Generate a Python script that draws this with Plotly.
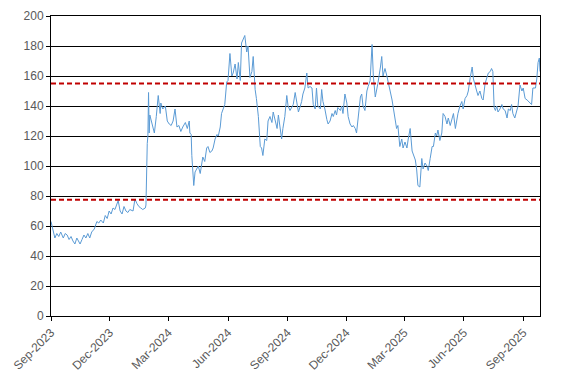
import datetime as dt
import plotly.graph_objects as go

start_date = dt.date(2023, 9, 1)

day_offsets = [
    0, 3, 6, 9, 12, 15, 19, 22, 25, 28, 31, 34, 37, 40, 43, 45, 48, 51, 54, 57,
    60, 63, 67, 70, 71, 74, 77, 81, 84, 87, 90, 93, 96, 99, 104, 107, 110, 113, 116, 119,
    122, 127, 130, 133, 136, 139, 142, 146, 147, 149, 150, 151, 152, 153, 156, 160, 163, 166, 169, 170,
    173, 177, 180, 183, 186, 189, 192, 195, 198, 201, 204, 208, 211, 214, 215, 217, 218, 220, 221, 223,
    226, 228, 231, 233, 235, 238, 241, 243, 246, 249, 251, 254, 257, 259, 262, 264, 266, 269, 272, 274,
    277, 280, 282, 285, 288, 290, 293, 295, 297, 300, 303, 305, 308, 311, 313, 316, 318, 321, 324, 326,
    328, 331, 334, 336, 339, 342, 344, 347, 350, 352, 355, 357, 359, 362, 365, 367, 370, 373, 375, 378,
    381, 383, 386, 388, 390, 393, 396, 398, 401, 404, 406, 409, 411, 413, 417, 419, 421, 424, 427, 429,
    432, 435, 437, 440, 442, 444, 448, 450, 452, 455, 458, 460, 463, 466, 468, 471, 473, 475, 479, 481,
    483, 486, 489, 491, 494, 497, 499, 502, 504, 506, 510, 512, 514, 517, 520, 522, 525, 528, 530, 533,
    535, 537, 540, 543, 545, 548, 551, 553, 556, 559, 561, 564, 566, 568, 571, 574, 576, 579, 582, 584,
    587, 590, 592, 595, 597, 599, 602, 605, 607, 610, 613, 615, 618, 621, 623, 626, 628, 630, 633, 636,
    638, 641, 644, 646, 649, 652, 654, 657, 659, 661, 664, 667, 669, 672, 675, 677, 680, 682, 684, 686,
    688, 690, 692, 695, 698, 700, 703, 706, 708, 711, 713, 715, 718, 721, 723, 726, 729, 731, 734, 737,
    739, 742, 744, 746, 750, 752, 754, 756, 757,
]

values = [
    63, 57, 52, 55, 53, 56, 52, 55, 54, 51, 53, 50, 48, 52, 49, 48, 51, 54, 52, 55,
    52, 56, 58, 61, 63, 62, 64, 62, 67, 65, 70, 68, 72, 71, 77, 70, 68, 73, 70, 69,
    71, 70, 78, 75, 73, 72, 71, 72, 74, 115, 120, 149, 122, 134, 128, 122, 133, 147, 135, 142,
    138, 140, 130, 128, 127, 130, 138, 126, 127, 123, 126, 129, 125, 130, 122, 121, 107, 95, 87, 96,
    99, 100, 95, 101, 106, 103, 112, 113, 109, 110, 112, 118, 121, 120, 126, 135, 138, 141, 156, 157,
    175, 160, 162, 168, 158, 169, 157, 182, 184, 187, 176, 180, 159, 163, 173, 151, 145, 133, 113, 112,
    107, 118, 117, 130, 133, 129, 136, 130, 125, 134, 126, 118, 125, 133, 147, 140, 137, 140, 141, 149,
    142, 136, 140, 143, 148, 152, 162, 152, 153, 152, 141, 138, 152, 140, 138, 151, 143, 138, 131, 128,
    130, 135, 133, 137, 134, 139, 137, 140, 135, 148, 142, 133, 128, 126, 127, 125, 122, 130, 146, 148,
    140, 137, 150, 153, 157, 181, 160, 146, 150, 155, 166, 173, 160, 165, 160, 155, 150, 144, 138, 131,
    125, 127, 113, 118, 112, 116, 112, 118, 125, 110, 107, 104, 98, 87, 86, 105, 98, 102, 100, 97,
    105, 113, 113, 122, 120, 124, 117, 122, 135, 133, 128, 132, 127, 133, 135, 125, 132, 135, 140, 143,
    138, 145, 147, 150, 159, 166, 158, 152, 150, 147, 150, 145, 144, 155, 159, 162, 163, 165, 163, 139,
    137, 140, 136, 138, 141, 138, 137, 132, 138, 137, 141, 135, 132, 137, 140, 154, 150, 152, 145, 144,
    143, 142, 141, 152, 152, 158, 169, 172, 163,
]

upper_level = 155
lower_level = 77.5
x_start = "2023-09-01"
x_end = "2025-09-27"
y_ticks = [0, 20, 40, 60, 80, 100, 120, 140, 160, 180, 200]

dates = [start_date + dt.timedelta(days=d) for d in day_offsets]

fig = go.Figure()
fig.add_trace(go.Scatter(
    x=dates, y=values, mode="lines",
    line=dict(color="#5B9BD5", width=1),
    hoverinfo="skip", showlegend=False,
))
for lvl in (upper_level, lower_level):
    fig.add_trace(go.Scatter(
        x=[x_start, x_end], y=[lvl, lvl], mode="lines",
        line=dict(color="#C00000", width=2, dash="5px,3px"),
        hoverinfo="skip", showlegend=False,
    ))

fig.update_layout(
    width=567, height=383,
    margin=dict(l=51, r=27, t=16, b=67),
    paper_bgcolor="white", plot_bgcolor="white",
    font=dict(family="Liberation Sans", size=12, color="#595959"),
)
fig.update_xaxes(
    type="date", range=[x_start, x_end], automargin=False,
    tick0=x_start, dtick="M3", tickformat="%b-%Y",
    tickangle=-45, ticks="outside", ticklen=4, tickcolor="black",
    showline=True, linecolor="black", linewidth=1, mirror=True,
    showgrid=False, zeroline=False,
)
fig.update_yaxes(
    range=[0, 200], tickvals=y_ticks, automargin=False,
    ticks="outside", ticklen=4, tickcolor="black",
    showline=True, linecolor="black", linewidth=1, mirror=True,
    showgrid=True, gridcolor="black", gridwidth=1, zeroline=False,
)

fig.write_html(
    "out.html",
    config={"displayModeBar": False},
    post_script="document.body.style.margin='0';",
)
